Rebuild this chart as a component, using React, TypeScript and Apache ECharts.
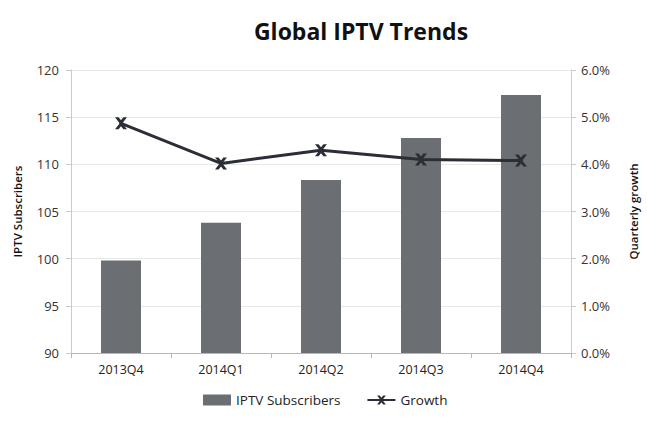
import React, { useEffect, useRef } from "react";
import * as echarts from "echarts";

const categories = ["2013Q4", "2014Q1", "2014Q2", "2014Q3", "2014Q4"];
const subscribers = [99.8, 103.8, 108.35, 112.8, 117.35];
const growth = [4.87, 4.02, 4.3, 4.1, 4.08];

const crossPath = "path://M0,0 L3,0 L5,2.5 L7,0 L10,0 L6.5,4.5 L6.5,5.5 L10,10 L7,10 L5,7.5 L3,10 L0,10 L3.5,5.5 L3.5,4.5 Z";

export default function App() {
  const ref = useRef<HTMLDivElement>(null);
  useEffect(() => {
    const chart = echarts.init(ref.current!, null, { renderer: "svg" });
    const font = "Open Sans";
    chart.setOption({
      animation: false,
      backgroundColor: "#ffffff",
      title: {
        text: "Global IPTV Trends",
        left: 356,
        textAlign: "center",
        top: 14,
        textStyle: { fontFamily: font, fontSize: 23, fontWeight: "bold", color: "#111" },
      },
      legend: {
        bottom: 12,
        left: 198,
        itemGap: 26,
        itemWidth: 28,
        itemHeight: 11,
        textStyle: { fontFamily: font, fontSize: 13.5, color: "#222" },
        data: [
          { name: "IPTV Subscribers", icon: "rect" },
          { name: "Growth" },
        ],
      },
      grid: { left: 71, right: 76, top: 70, bottom: 71 },
      xAxis: {
        type: "category",
        data: categories,
        axisLine: { lineStyle: { color: "#b5b9b5" } },
        axisTick: { show: true, length: 5, lineStyle: { color: "#b5b9b5" } },
        axisLabel: { fontFamily: font, fontSize: 12.5, color: "#222", margin: 10 },
      },
      yAxis: [
        {
          type: "value",
          min: 90,
          max: 120,
          interval: 5,
          name: "IPTV Subscribers",
          nameLocation: "middle",
          nameGap: 48,
          nameTextStyle: { fontFamily: font, fontSize: 11.5, fontWeight: 600, color: "#111" },
          axisLine: { show: true, lineStyle: { color: "#c9cdc9" } },
          axisTick: { show: true, length: 5, lineStyle: { color: "#c9cdc9" } },
          axisLabel: { fontFamily: font, fontSize: 13, color: "#333", margin: 12 },
          splitLine: { lineStyle: { color: "#e6e8e6" } },
        },
        {
          type: "value",
          min: 0,
          max: 6,
          interval: 1,
          name: "Quarterly growth",
          nameLocation: "middle",
          nameGap: 56,
          nameRotate: 90,
          nameTextStyle: { fontFamily: font, fontSize: 11.5, fontWeight: 600, color: "#111" },
          axisLine: { show: true, lineStyle: { color: "#c9cdc9" } },
          axisTick: { show: true, length: 5, lineStyle: { color: "#c9cdc9" } },
          axisLabel: {
            fontFamily: font,
            fontSize: 13,
            color: "#333",
            margin: 10,
            formatter: (v: number) => v.toFixed(1) + "%",
          },
          splitLine: { show: false },
        },
      ],
      series: [
        {
          name: "IPTV Subscribers",
          type: "bar",
          data: subscribers,
          barWidth: 40,
          itemStyle: { color: "#6b6e72" },
          yAxisIndex: 0,
        },
        {
          name: "Growth",
          type: "line",
          data: growth,
          yAxisIndex: 1,
          symbol: crossPath,
          symbolSize: 12,
          lineStyle: { color: "#2b2e36", width: 3 },
          itemStyle: { color: "#2b2e36" },
        },
      ],
    });
    return () => chart.dispose();
  }, []);
  return (
    <div
      ref={ref}
      style={{ position: "absolute", left: 0, top: 0, width: 647, height: 424 }}
    />
  );
}
